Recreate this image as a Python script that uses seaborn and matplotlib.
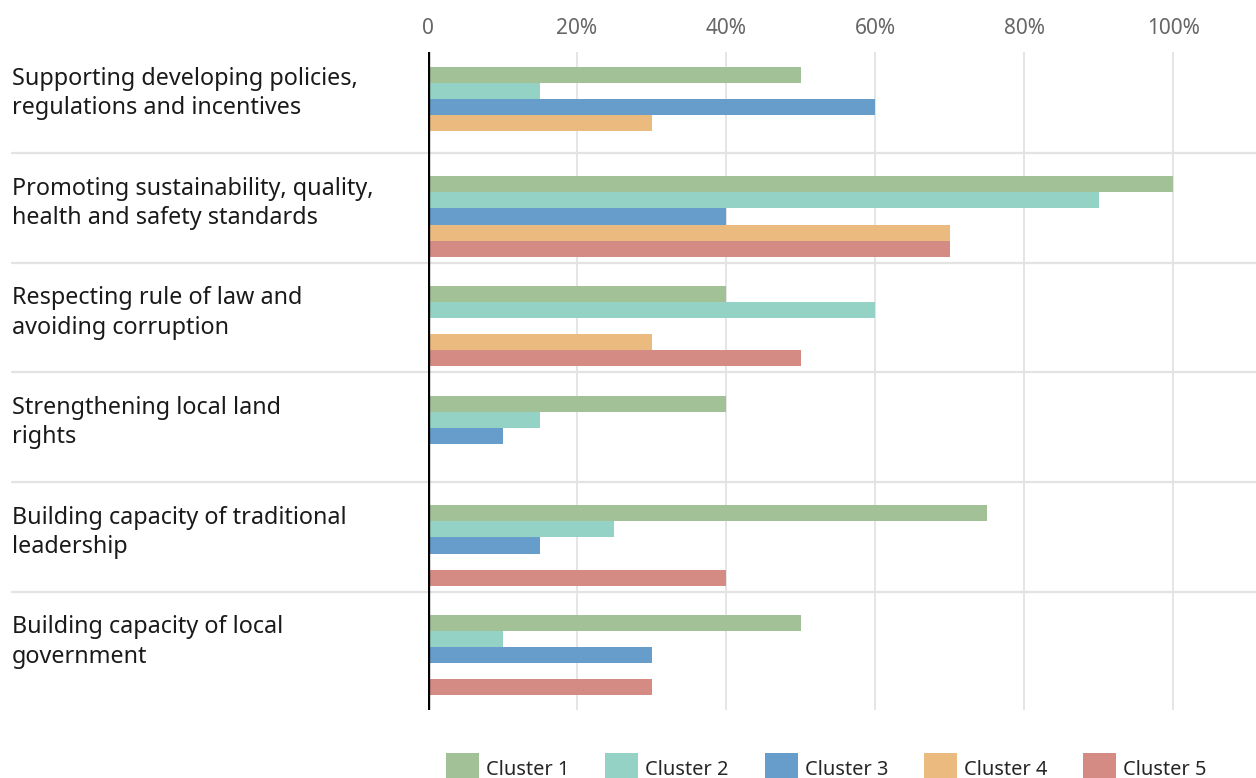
import numpy as np
import pandas as pd
import matplotlib
matplotlib.use("Agg")
import matplotlib.pyplot as plt
import matplotlib.transforms as mtransforms
from matplotlib.patches import Patch
import seaborn as sns

categories = [
    "Supporting developing policies,\nregulations and incentives",
    "Promoting sustainability, quality,\nhealth and safety standards",
    "Respecting rule of law and\navoiding corruption",
    "Strengthening local land\nrights",
    "Building capacity of traditional\nleadership",
    "Building capacity of local\ngovernment",
]
clusters = ["Cluster 1", "Cluster 2", "Cluster 3", "Cluster 4", "Cluster 5"]
cluster1 = [0.50, 1.00, 0.40, 0.40, 0.75, 0.50]
cluster2 = [0.15, 0.90, 0.60, 0.15, 0.25, 0.10]
cluster3 = [0.60, 0.40, np.nan, 0.10, 0.15, 0.30]
cluster4 = [0.30, 0.70, 0.30, np.nan, np.nan, np.nan]
cluster5 = [np.nan, 0.70, 0.50, np.nan, 0.40, 0.30]
tick_values = [0, 0.2, 0.4, 0.6, 0.8, 1.0]
tick_labels = ["0", "20%", "40%", "60%", "80%", "100%"]
colors = ["#a3c197", "#93d2c4", "#669dcb", "#ebba7f", "#d48b83"]

series = [cluster1, cluster2, cluster3, cluster4, cluster5]
rows = []
for cl, vals in zip(clusters, series):
    for cat, v in zip(categories, vals):
        rows.append({"category": cat, "cluster": cl, "value": v})
df = pd.DataFrame(rows)

sns.set_theme(style="white")
plt.rcParams["font.family"] = ["Noto Sans", "DejaVu Sans"]

fig = plt.figure(figsize=(12.56, 7.78), dpi=100)
ax = fig.add_axes([428 / 1256, 1 - 710 / 778, 1 - 428 / 1256, (710 - 52) / 778])

sns.barplot(data=df, y="category", x="value", hue="cluster",
            order=categories, hue_order=clusters, palette=colors,
            saturation=1, orient="h", width=0.73, dodge=True, errorbar=None,
            linewidth=0, legend=False, ax=ax, zorder=3)

ax.set_xlim(0, 1.111)
ax.set_ylim(len(categories) - 0.5, -0.5)
ax.xaxis.tick_top()
ax.set_xticks(tick_values)
ax.set_xticklabels(tick_labels, color="#666666", fontsize=15)
ax.tick_params(axis="x", length=0, pad=9)
ax.set_yticks([])
ax.set_xlabel("")
ax.set_ylabel("")
for s in ax.spines.values():
    s.set_visible(False)
ax.grid(axis="x", color="#e3e3e3", linewidth=1.3, zorder=0)
ax.axvline(0, color="black", linewidth=2.4, zorder=5)

# category separators spanning label area
trans = mtransforms.blended_transform_factory(fig.transFigure, ax.transData)
for i in range(len(categories) - 1):
    ax.plot([12 / 1256, 1.0], [i + 0.42, i + 0.42], transform=trans,
            color="#e3e3e3", linewidth=1.6, clip_on=False, zorder=1)

# category labels
for i, cat in enumerate(categories):
    ax.text(12 / 1256, i - 0.12, cat, transform=trans, ha="left", va="center",
            fontsize=16.8, color="#1a1a1a", linespacing=1.3)

handles = [Patch(facecolor=c, edgecolor="none") for c in colors]
fig.legend(handles, clusters, loc="center", bbox_to_anchor=(0.658, 9 / 778),
           ncol=5, frameon=False, fontsize=14.4, handlelength=1.65,
           handleheight=2.16, handletextpad=0.35, columnspacing=1.8)

fig.savefig("out.png", dpi=100)
